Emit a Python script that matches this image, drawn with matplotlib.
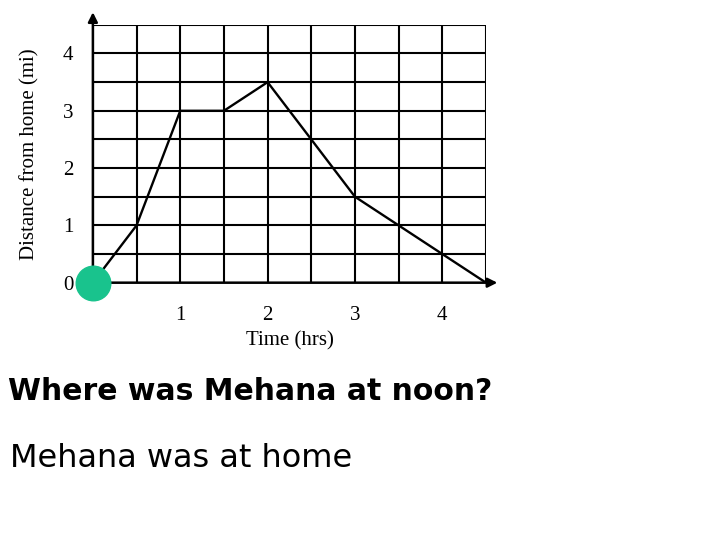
import numpy as np
import matplotlib
matplotlib.use("Agg")
import matplotlib.pyplot as plt

# distance-time data (hours, miles)
time_hrs = [0, 0.5, 1, 1.5, 2, 3, 4.5]
dist_mi = [0, 1, 3, 3, 3.5, 1.5, 0]
x_ticks = [1, 2, 3, 4]
y_ticks = [0, 1, 2, 3, 4]
grid_step = 0.5
question = "Where was Mehana at noon?"
answer = "Mehana was at home"

serif = "Liberation Serif"
sans = "DejaVu Sans"

fig = plt.figure(figsize=(7.2, 5.4), dpi=100)
ax = fig.add_axes([0.129, 0.4765, 0.546, 0.4775])

ax.set_xlim(0, 4.5)
ax.set_ylim(0, 4.5)
grid = np.arange(0, 4.5 + 0.01, grid_step)
ax.set_xticks(grid, minor=True)
ax.set_yticks(grid, minor=True)
ax.set_xticks(x_ticks)
ax.set_yticks(y_ticks)
ax.set_xticklabels([str(t) for t in x_ticks], family=serif, fontsize=15)
ax.set_yticklabels([str(t) for t in y_ticks], family=serif, fontsize=15)
ax.tick_params(which="both", length=0)
ax.tick_params(axis="x", pad=17)
ax.tick_params(axis="y", pad=14)
ax.grid(which="both", color="black", linewidth=1.5)
for s in ax.spines.values():
    s.set_visible(False)

# axes with arrows
ax.annotate("", xy=(0, 4.72), xytext=(0, 0), annotation_clip=False,
            arrowprops=dict(arrowstyle="-|>", color="black", lw=1.8,
                            mutation_scale=14, shrinkA=0, shrinkB=0))
ax.annotate("", xy=(4.63, 0), xytext=(0, 0), annotation_clip=False,
            arrowprops=dict(arrowstyle="-|>", color="black", lw=1.8,
                            mutation_scale=14, shrinkA=0, shrinkB=0))

ax.plot(time_hrs, dist_mi, color="black", linewidth=1.7, zorder=3)
ax.scatter([time_hrs[0]], [dist_mi[0]], s=620, color="#19c38d",
           clip_on=False, zorder=5)

ax.set_xlabel("Time (hrs)", family=serif, fontsize=15, labelpad=4)
ax.set_ylabel("Distance from home (mi)", family=serif, fontsize=15,
              labelpad=17)

fig.text(0.011, 0.259, question, family=sans, fontweight="bold",
         fontsize=21.5, va="baseline", ha="left")
fig.text(0.014, 0.136, answer, family=sans, fontsize=23,
         va="baseline", ha="left")

fig.savefig("out.png", dpi=100)
